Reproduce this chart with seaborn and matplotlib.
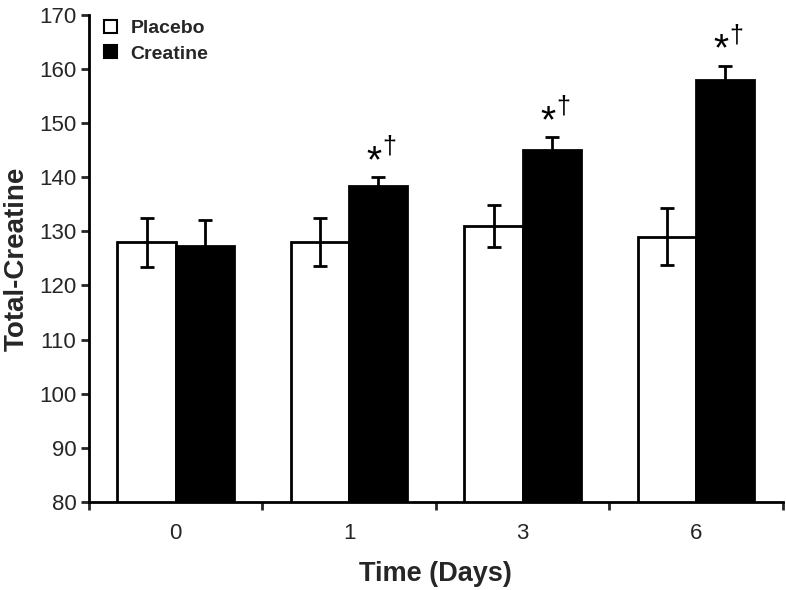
import seaborn as sns
import pandas as pd
import matplotlib
matplotlib.use('Agg')
import matplotlib.pyplot as plt
import numpy as np

days = ['0', '1', '3', '6']
placebo = [128.0, 128.0, 131.0, 129.0]
placebo_err = [4.5, 4.4, 3.9, 5.3]
creatine = [127.3, 138.3, 145.0, 158.0]
creatine_err = [4.8, 1.7, 2.4, 2.6]
marked = [False, True, True, True]

sns.set_style('white')
plt.rcParams['font.family'] = ['Liberation Sans', 'DejaVu Sans']

data = pd.DataFrame({
    'day': days * 2,
    'value': placebo + creatine,
    'group': ['Placebo'] * 4 + ['Creatine'] * 4,
})
errs = {'Placebo': placebo_err, 'Creatine': creatine_err}

fig = plt.figure(figsize=(7.86, 5.9), dpi=100)
ax = fig.add_axes([0.113, 0.149, 0.883, 0.826])

sns.barplot(data=data, x='day', y='value', hue='group', order=days,
            hue_order=['Placebo', 'Creatine'],
            palette={'Placebo': 'white', 'Creatine': 'black'},
            edgecolor='black', linewidth=2, width=0.67, gap=0,
            errorbar=None, ax=ax)

for cont, name in zip(ax.containers, ['Placebo', 'Creatine']):
    xs = [b.get_x() + b.get_width() / 2 for b in cont]
    ys = [b.get_height() for b in cont]
    ax.errorbar(xs, ys, yerr=errs[name], fmt='none', ecolor='black',
                elinewidth=2, capsize=5, capthick=2, zorder=5)

# significance marks above creatine bars
for b, e, m in zip(ax.containers[1], creatine_err, marked):
    if not m:
        continue
    xc = b.get_x() + b.get_width() / 2
    top = b.get_height() + e
    ax.text(xc - 0.023, top + 0.9, '*', ha='center', va='baseline',
            fontsize=28, color='black')
    ax.text(xc + 0.066, top + 4.3, '\u2020', ha='center', va='baseline',
            fontsize=18, color='black')

ax.set_ylim(80, 170)
ax.set_yticks(np.arange(80, 171, 10))
ax.set_xlim(-0.5, 3.5)
ax.set_xticks(np.arange(-0.5, 3.6, 1))
ax.set_xticklabels([])
ax.set_xticks(range(4), minor=True)
ax.set_xticklabels(days, minor=True)
ax.tick_params(axis='x', which='major', direction='out', length=6, width=2,
               bottom=True)
ax.tick_params(axis='x', which='minor', length=0, pad=15, labelsize=16)
ax.tick_params(axis='y', direction='out', length=6, width=2, left=True,
               labelsize=16, pad=3)

for s in ['top', 'right']:
    ax.spines[s].set_visible(False)
for s in ['left', 'bottom']:
    ax.spines[s].set_linewidth(2)
    ax.spines[s].set_color('black')

ax.set_xlabel('Time (Days)', fontsize=19.5, fontweight='bold', labelpad=12)
ax.set_ylabel('Total-Creatine', fontsize=20, fontweight='bold', labelpad=7)

leg = ax.legend(loc='upper left', bbox_to_anchor=(-0.003, 1.025),
                frameon=False, handlelength=0.66, handleheight=0.66,
                handletextpad=0.7, labelspacing=0.4,
                prop={'weight': 'bold', 'size': 14})
for h in leg.legend_handles:
    h.set_edgecolor('black')
    h.set_linewidth(1.5)

plt.savefig('out.png', dpi=100)
